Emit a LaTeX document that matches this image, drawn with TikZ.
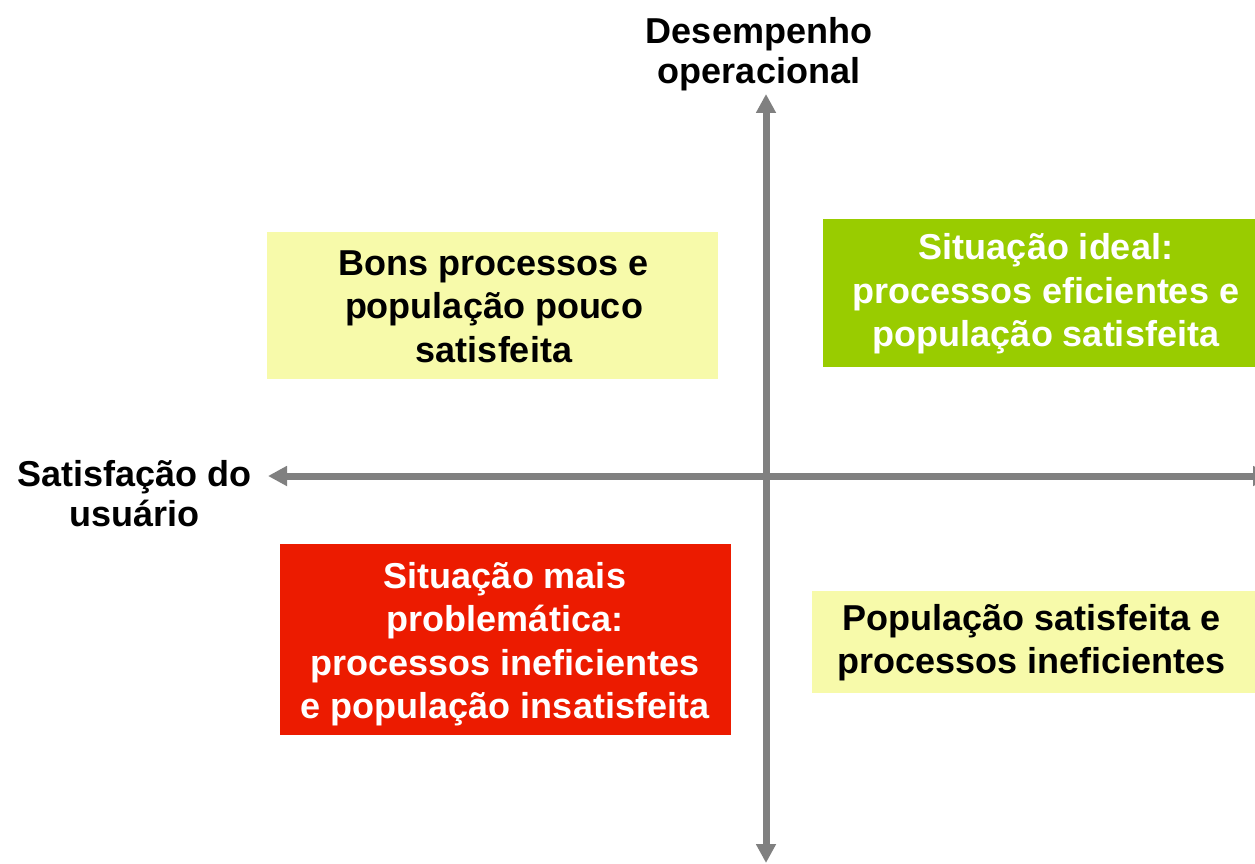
\documentclass[tikz,border=0pt]{standalone}
\usepackage{fontspec}
\setmainfont{Liberation Sans}
\usetikzlibrary{arrows.meta}
\definecolor{lyel}{RGB}{247,250,170}
\definecolor{lgreen}{RGB}{153,204,0}
\definecolor{lred}{RGB}{236,27,0}
\definecolor{axgray}{RGB}{128,128,128}
\begin{document}
\begin{tikzpicture}[x=1pt,y=-1pt,
  boxfill/.style={inner sep=0pt, draw=none},
  txt/.style={inner sep=0pt, align=center, font=\bfseries\fontsize{36}{43.5}\selectfont},
  axis/.style={draw=axgray, line width=7pt, {Triangle[length=19pt,width=19pt]}-{Triangle[length=19pt,width=19pt]}}
]
\useasboundingbox (0,0) rectangle (1255,864);
\clip (0,0) rectangle (1255,864);

% boxes
\node[boxfill, fill=lyel, minimum width=451pt, minimum height=147pt] (ytl) at (492.5,305.5) {};
\node[boxfill, fill=lgreen, minimum width=446pt, minimum height=148pt] (gtr) at (1046,293) {};
\node[boxfill, fill=lred, minimum width=451pt, minimum height=191pt] (rbl) at (505.5,639.5) {};
\node[boxfill, fill=lyel, minimum width=445pt, minimum height=102pt] (ybr) at (1034.5,642) {};

% axes
\coordinate (vtop) at (766,94);
\coordinate (vbot) at (766,863);
\coordinate (hleft) at (268,476);
\coordinate (hright) at (1272,476);
\draw[axis] (vbot) -- (vtop);
\draw[axis] (hright) -- (hleft);

% texts
\node[txt] (ytltxt) at (494,306.5) {Bons processos e\\população pouco\\satisfeita};
\node[txt, text=white] (gtrtxt) at (1046,294) {Situação ideal:\\processos eficientes e\\população satisfeita};
\node[txt, text=white] (rbltxt) at (505,644) {Situação mais\\problemática:\\processos ineficientes\\e população insatisfeita};
\node[txt] (ybrtxt) at (1031.5,642.5) {População satisfeita e\\processos ineficientes};

% axis labels
\node[txt, font=\bfseries\fontsize{36}{40}\selectfont] (ylab) at (759,54) {Desempenho\\operacional};
\node[txt, font=\bfseries\fontsize{36}{40}\selectfont] (xlab) at (134.5,494) {Satisfação do\\usuário};
\end{tikzpicture}
\end{document}
